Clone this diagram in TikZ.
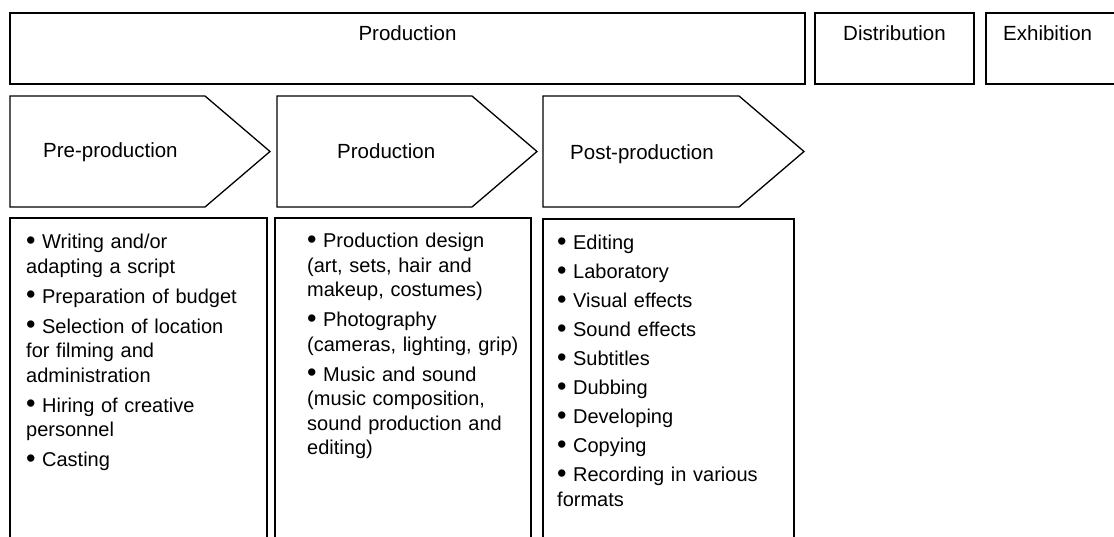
\documentclass[tikz,border=0pt]{standalone}
\usepackage{fontspec}
\setmainfont{Liberation Sans}
\newcommand\itm{\raisebox{-0.5pt}{\fontsize{27}{0}\selectfont\textbullet}\hspace{6.5pt}}
\begin{document}
\begin{tikzpicture}[x=1pt,y=-1pt,
  box/.style={draw=black, line width=1.3pt, line join=miter},
  lbl/.style={font=\fontsize{20.5}{24}\selectfont, inner sep=0pt, anchor=base},
  body/.style={font=\fontsize{20}{24.5}\selectfont, inner sep=0pt, anchor=base west, align=left, text width=240pt}]
\path[use as bounding box] (0,0) rectangle (1114,537);
\clip (0,0) rectangle (1114,537);
\fill[white] (0,0) rectangle (1114,537);
% top row
\draw[box] (10,13) rectangle (805,84);
\draw[box] (815,13) rectangle (974,84);
\draw[box] (986,13) rectangle (1130,84);
\node[lbl] (prodtop) at (407.5,41) {Production};
\node[lbl] (dist) at (894.5,41) {Distribution};
\node[lbl, anchor=base west] (exh) at (1003,41) {Exhibition};
% chevrons
\draw[box] (10,96) -- (205,96) -- (270,151.5) -- (205,207) -- (10,207) -- cycle;
\draw[box] (277,96) -- (472,96) -- (537,151.5) -- (472,207) -- (277,207) -- cycle;
\draw[box] (543,96) -- (739,96) -- (804,151.5) -- (739,207) -- (543,207) -- cycle;
\node[lbl, anchor=base west] (pre) at (43,158) {Pre-production};
\node[lbl, anchor=base west] (prod) at (337,159) {Production};
\node[lbl, anchor=base west] (post) at (570,160) {Post-production};
% detail boxes
\draw[box] (10,218) rectangle (267,560);
\draw[box] (275,218) rectangle (531,560);
\draw[box] (543,219) rectangle (794,560);
\node[body] (preitems) at (26,249) {\itm Writing and/or\\
adapting a script\\[5.5pt]
\itm Preparation of budget\\[5.5pt]
\itm Selection of location\\
for filming and\\
administration\\[5.5pt]
\itm Hiring of creative\\
personnel\\[5.5pt]
\itm Casting};
\node[body] (proditems) at (307,248) {\itm Production design\\
(art, sets, hair and\\
makeup, costumes)\\[5.5pt]
\itm Photography\\
(cameras, lighting, grip)\\[5.5pt]
\itm Music and sound\\
(music composition,\\
sound production and\\
editing)};
\node[body] (postitems) at (557,250) {\itm Editing\\[4.5pt]
\itm Laboratory\\[4.5pt]
\itm Visual effects\\[4.5pt]
\itm Sound effects\\[4.5pt]
\itm Subtitles\\[4.5pt]
\itm Dubbing\\[4.5pt]
\itm Developing\\[4.5pt]
\itm Copying\\[4.5pt]
\itm Recording in various\\
formats};
\end{tikzpicture}
\end{document}
